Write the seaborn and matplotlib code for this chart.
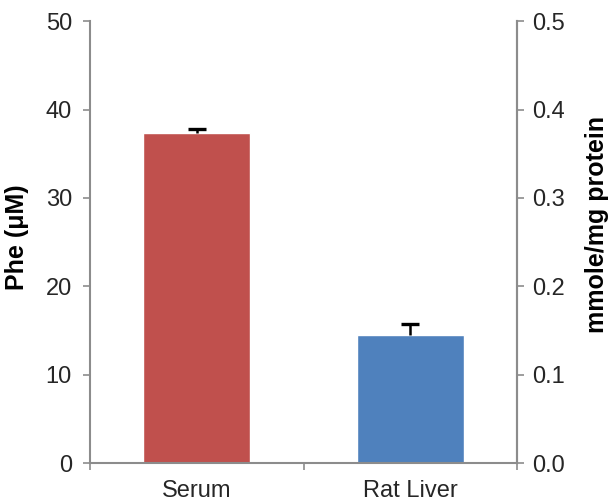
import matplotlib
matplotlib.use("Agg")
import matplotlib.pyplot as plt
import seaborn as sns
import pandas as pd
import numpy as np
from matplotlib.ticker import FixedLocator, NullFormatter

categories = ["Serum", "Rat Liver"]
values = [37.4, 14.5]
errors = [0.35, 1.2]
colors = ["#C0504D", "#4F81BD"]
left_ticks = [0, 10, 20, 30, 40, 50]
right_ticks = [0.0, 0.1, 0.2, 0.3, 0.4, 0.5]
right_labels = ["0.0", "0.1", "0.2", "0.3", "0.4", "0.5"]

sns.set_theme(style="white")
plt.rcParams['font.family'] = ['Liberation Sans', 'DejaVu Sans']

df = pd.DataFrame({"cat": categories, "val": values})

fig = plt.figure(figsize=(6.14, 5.04), dpi=100)
ax = fig.add_axes([0.1466, 0.0813, 0.842 - 0.1466, 0.958 - 0.0813])
sns.barplot(data=df, x="cat", y="val", hue="cat", palette=colors, width=0.5,
            legend=False, ax=ax, saturation=1, errorbar=None)
eb = ax.errorbar(x=np.arange(len(categories)), y=values,
                 yerr=[np.zeros(len(errors)), errors], fmt="none",
                 ecolor="black", elinewidth=1.8, capsize=6.8, capthick=2.4, zorder=3)
# hide the lower caps (only upper error bars in the reference)
caplines = eb[1]
if len(caplines) == 2:
    caplines[0].set_visible(False)

grey = "#8c8c8c"
tick_col = "#262626"
ax.set_xlim(-0.5, 1.5)
ax.set_ylim(0, 50)
ax.set_yticks(left_ticks)
ax.set_yticklabels([str(t) for t in left_ticks])
ax.set_xlabel("")
ax.set_ylabel("Phe (μM)", fontsize=18, fontweight="bold", color="black")
ax.yaxis.set_label_coords(-0.171, 0.51)
ax.yaxis.label.set_va("center")
ax.tick_params(axis="y", direction="out", length=5, width=1.2, color=grey,
               labelsize=17, pad=8, left=True, labelcolor=tick_col)
ax.tick_params(axis="x", which="major", length=0, labelsize=17, pad=12, labelcolor=tick_col)
ax.xaxis.set_minor_locator(FixedLocator([-0.5, 0.5, 1.5]))
ax.xaxis.set_minor_formatter(NullFormatter())
ax.tick_params(axis="x", which="minor", direction="out", length=5, width=1.2,
               color=grey, bottom=True)
ax.spines["top"].set_visible(False)
for s in ["left", "bottom", "right"]:
    ax.spines[s].set_color(grey)
    ax.spines[s].set_linewidth(1.5)

ax2 = ax.twinx()
ax2.set_ylim(0, 0.5)
ax2.set_yticks(right_ticks)
ax2.set_yticklabels(right_labels)
ax2.set_ylabel("mmole/mg protein", fontsize=18, fontweight="bold", color="black")
ax2.yaxis.set_label_coords(1.187, 0.54)
ax2.yaxis.label.set_va("center")
ax2.tick_params(axis="y", direction="out", length=5, width=1.2, color=grey,
                labelsize=17, pad=6, right=True, labelcolor=tick_col)
for s in ["top", "left", "bottom"]:
    ax2.spines[s].set_visible(False)
ax2.spines["right"].set_color(grey)
ax2.spines["right"].set_linewidth(1.5)

fig.savefig("out.png", dpi=100)
